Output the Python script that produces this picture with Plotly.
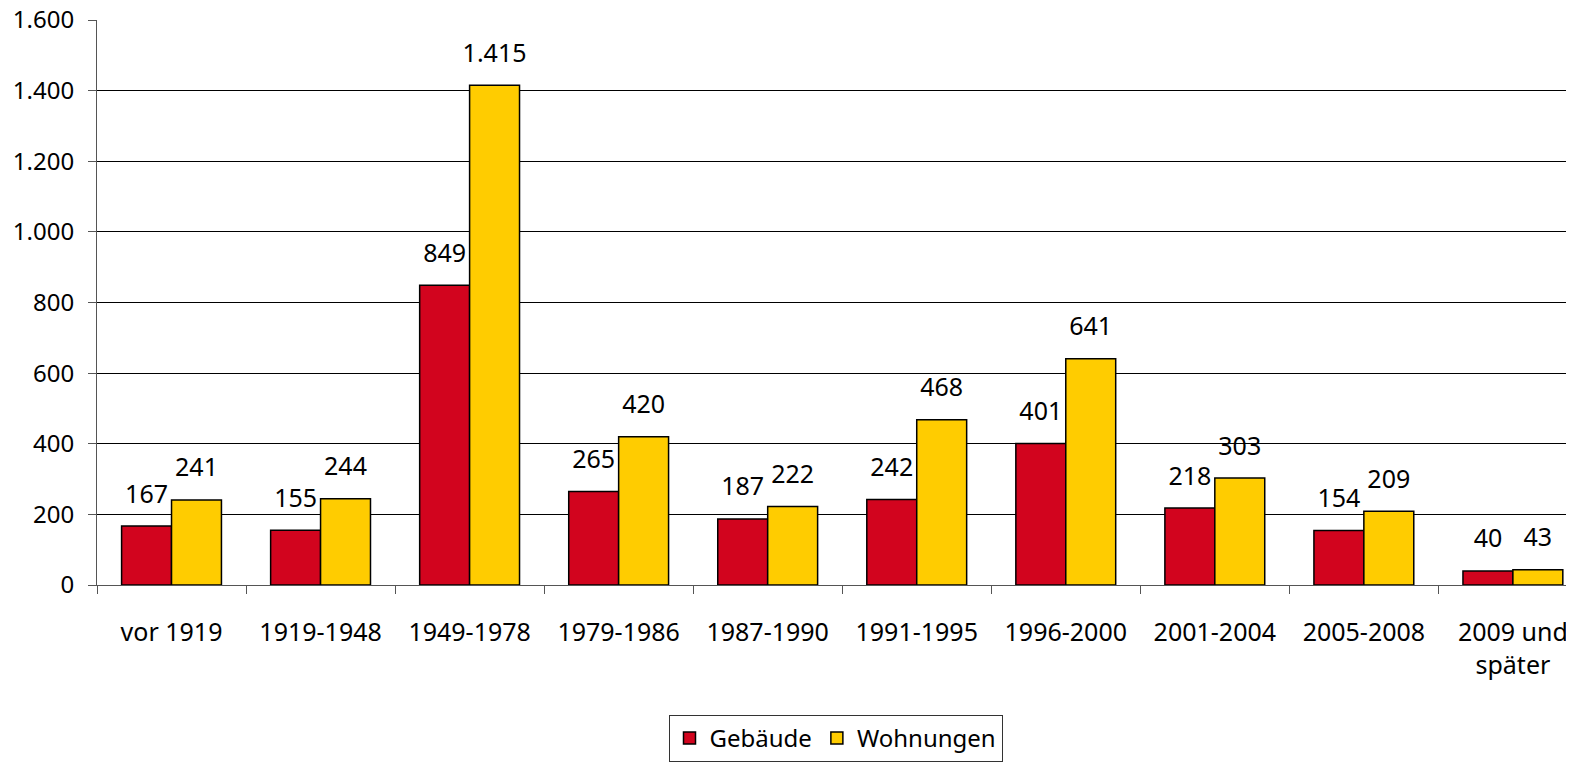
import plotly.graph_objects as go

# Baualter der Gebäude / Wohnungen
categories = ['vor 1919', '1919-1948', '1949-1978', '1979-1986', '1987-1990',
              '1991-1995', '1996-2000', '2001-2004', '2005-2008', '2009 und<br>später']
gebaeude = [167, 155, 849, 265, 187, 242, 401, 218, 154, 40]
wohnungen = [241, 244, 1415, 420, 222, 468, 641, 303, 209, 43]
y_ticks = [0, 200, 400, 600, 800, 1000, 1200, 1400, 1600]

font = 'Noto Sans, Open Sans, sans-serif'
colors = {'Gebäude': '#D2041E', 'Wohnungen': '#FFCC00'}

fig = go.Figure()
for name, vals in [('Gebäude', gebaeude), ('Wohnungen', wohnungen)]:
    fig.add_trace(go.Bar(x=categories, y=vals, name=name, offsetgroup=name,
                         marker=dict(color=colors[name], line=dict(color='black', width=1.5))))
# value labels, lifted a bit above the bars by an invisible marker
for name, vals in [('Gebäude', gebaeude), ('Wohnungen', wohnungen)]:
    fig.add_trace(go.Scatter(x=categories, y=vals, offsetgroup=name, mode='markers+text',
                             text=[f'{v:,}'.replace(',', '.') for v in vals],
                             textposition='top center', showlegend=False, hoverinfo='skip',
                             marker=dict(size=26, opacity=0), cliponaxis=False,
                             textfont=dict(size=25, color='black')))

# page body has an 8px margin, so margins are shifted by 8px
fig.update_layout(
    width=1574, height=762,
    margin=dict(l=89, r=8, t=12, b=180),
    plot_bgcolor='white', paper_bgcolor='white',
    separators=',.',
    barmode='group', bargap=0.33, bargroupgap=0,
    scattermode='group', scattergap=0.33,
    font=dict(family=font, size=25, color='black'),
    legend=dict(orientation='h', x=0.5, xanchor='center', y=-0.23, yanchor='top',
                bordercolor='#333333', borderwidth=1, font=dict(size=24),
                itemwidth=30, tracegroupgap=0),
)
fig.update_xaxes(range=[-0.5, 9.41], showline=True, linecolor='#555555', linewidth=1,
                 ticks='outside', tickson='boundaries', ticklen=8, tickcolor='#555555',
                 ticklabelstandoff=25, tickfont=dict(size=25), automargin=False)
fig.update_yaxes(range=[0, 1600], tickvals=y_ticks, tickformat=',d',
                 showline=True, linecolor='#555555', linewidth=1,
                 ticks='outside', ticklen=8, tickcolor='#555555',
                 showgrid=True, gridcolor='black', gridwidth=1,
                 zeroline=False, tickfont=dict(size=24), automargin=False,
                 ticklabelstandoff=9, ticklabeloverflow='allow')

fig.write_html('out.html')
